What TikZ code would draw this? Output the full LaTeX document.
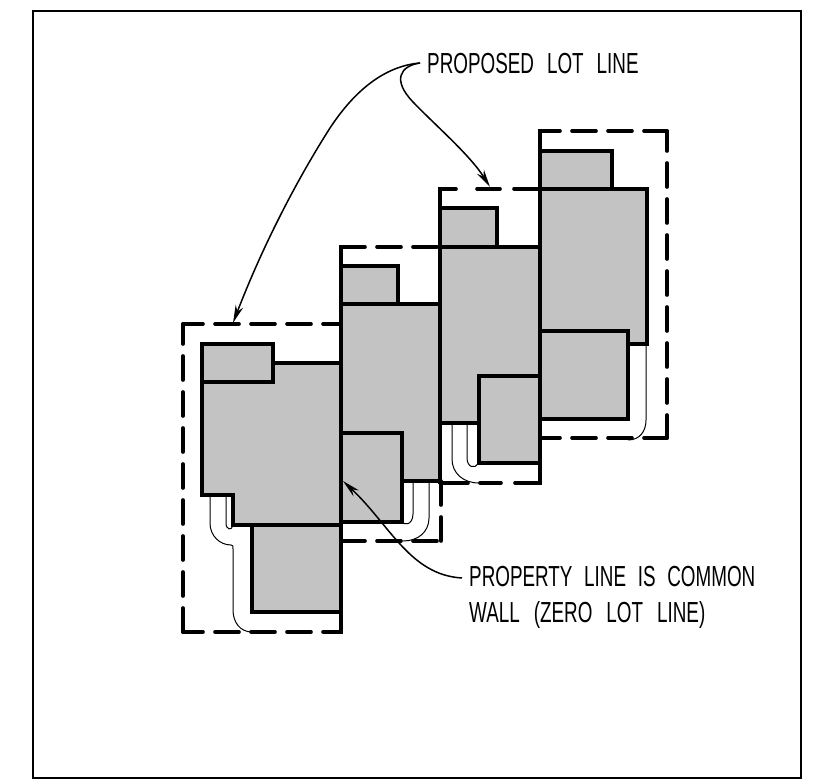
\documentclass[tikz,border=0pt]{standalone}
\usepackage{fontspec}
\usetikzlibrary{arrows.meta}
\newfontfamily\cadfont[FakeStretch=0.65]{Liberation Sans}
\newcommand{\cadgap}{\hspace{13pt}}
\newcommand{\cadgapnarrow}{\hspace{11.7pt}}
\newcommand{\cadgapwide}{\hspace{14pt}}
\definecolor{houseGray}{HTML}{C3C3C3}
\tikzset{
  x=1pt,y=-1pt,
  frameline/.style={line width=1.9pt,draw=black},
  wall/.style={line width=3.1pt,draw=black,line join=miter},
  house/.style={fill=houseGray,draw=none},
  lotdash/.style={line width=3.6pt,draw=black,line cap=round,dash pattern=on 24 off 12,dash phase=4},
  lotstroke/.style={line width=3.6pt,draw=black,line cap=round},
  lotsolid/.style={line width=3.6pt,draw=black,line cap=butt},
  drive/.style={line width=1pt,draw=black},
  leader/.style={line width=1.5pt,draw=black},
  leadarrow/.style={leader,-{Stealth[length=18pt,width=8pt]}},
  cadlabel/.style={inner sep=0pt,anchor=base west,font=\cadfont\fontsize{29}{34}\selectfont,align=left,text=black}
}
\begin{document}
\begin{tikzpicture}
\useasboundingbox (0,0) rectangle (830,783);
\fill[white] (0,0) rectangle (830,783);
\draw[frameline] (33,11) rectangle (801,778);
% house fills
\fill[house] (202,344) -| (273,363) -| (341,612) -| (252,525) -| (233,495) -| cycle;
\fill[house] (341,266) -| (398,304) -| (439,481) -| (402,522) -| cycle;
\fill[house] (440,208) -| (497,247) -| (540,463) -| (479,423) -| cycle;
\fill[house] (540,151) -| (612,189) -| (647,344) -| (628,419) -| cycle;
% house 1
\draw[wall] (202,382) -- (273,382) -- (273,344) -- (202,344) -- (202,495) -- (233,495) -- (233,525) -- (341,525);
\draw[wall] (273,363) -- (341,363);
\draw[wall] (341,612) -- (252,612) -- (252,525);
% house 2
\draw[wall] (341,266) -- (398,266) -- (398,304);
\draw[wall] (341,304) -- (440,304);
\draw[wall] (341,433) -- (402,433) -- (402,522) -- (341,522);
\draw[wall] (402,481) -- (440,481);
% house 3
\draw[wall] (440,208) -- (497,208) -- (497,247);
\draw[wall] (440,247) -- (540,247);
\draw[wall] (540,376) -- (479,376) -- (479,463) -- (540,463);
\draw[wall] (440,423) -- (479,423);
% house 4
\draw[wall] (540,151) -- (612,151) -- (612,189);
\draw[wall] (540,189) -- (647,189) -- (647,344) -- (628,344);
\draw[wall] (540,331) -- (628,331) -- (628,419) -- (540,419);
% common walls
\draw[lotsolid] (341,245) -- (341,634);
\draw[lotsolid] (440,187) -- (440,484);
\draw[lotsolid] (540,129) -- (540,485);
% lot 1
\draw[lotdash] (183,324) -- (341,324);
\draw[lotdash] (183,324) -- (183,632);
\draw[lotdash] (183,632) -- (341,632);
% lot 2
\draw[lotdash,dash phase=0] (341,247) -- (440,247);
\draw[lotdash,dash phase=0] (341,541) -- (441,541);
\draw[lotdash,dash phase=0] (441,541) -- (441,481);
% lot 3
\draw[lotstroke] (440,189) -- (456,189);
\draw[lotstroke] (477,189) -- (500,189);
\draw[lotstroke] (514,189) -- (540,189);
\draw[lotstroke] (440,483) -- (468,483);
\draw[lotstroke] (480,483) -- (501,483);
\draw[lotstroke] (515,483) -- (540,483);
% lot 4
\draw[lotdash] (540,131) -- (667,131);
\draw[lotdash] (667,131) -- (667,438);
\draw[lotdash] (540,438) -- (667,438);
% driveways
\draw[drive] (210,495) -- (210,523) .. controls (210,536) and (220,545) .. (231,545) .. controls (233,545) and (233,546) .. (233,549) -- (233,610) .. controls (233,622) and (240,632) .. (252,632);
\draw[drive] (226,495) -- (226,523) .. controls (226,530) and (232,531) .. (233,525);
\draw[drive] (429,481) -- (429,518) .. controls (429,532) and (418,541) .. (403,541);
\draw[drive] (413,481) -- (413,514) .. controls (413,525) and (403,527) .. (402,520);
\draw[drive] (452,423) -- (452,459) .. controls (452,473) and (463,483) .. (479,483);
\draw[drive] (467,423) -- (467,458) .. controls (467,467) and (475,470) .. (478,463);
\draw[drive] (646,344) -- (646,420) .. controls (646,431) and (640,440) .. (628,440);
% labels
\node[cadlabel] (lotlabel) at (427,73.5) {PROPOSED\cadgap LOT\cadgap LINE};
\node[cadlabel] (walllabel) at (469,586.5) {PROPERTY\cadgapnarrow LINE\cadgapnarrow IS\cadgapnarrow COMMON};
\node[cadlabel] (walllabeltwo) at (469,622) {WALL\cadgapwide (ZERO\cadgapwide LOT\cadgapwide LINE)};
\coordinate (lotstart) at (420,63);
\coordinate (wallstart) at (462,578);
\coordinate (tipone) at (233,323);
\coordinate (tiptwo) at (490,187);
\coordinate (tipwall) at (343,481);
% leaders
\draw[leadarrow] (lotstart) .. controls (385,66) and (355,90) .. (330,128) .. controls (300,175) and (265,240) .. (tipone);
\draw[leadarrow] (lotstart) .. controls (400,66) and (392,80) .. (413,102) .. controls (435,125) and (470,155) .. (tiptwo);
\draw[leadarrow] (wallstart) .. controls (410,575) and (390,525) .. (tipwall);
\end{tikzpicture}
\end{document}
